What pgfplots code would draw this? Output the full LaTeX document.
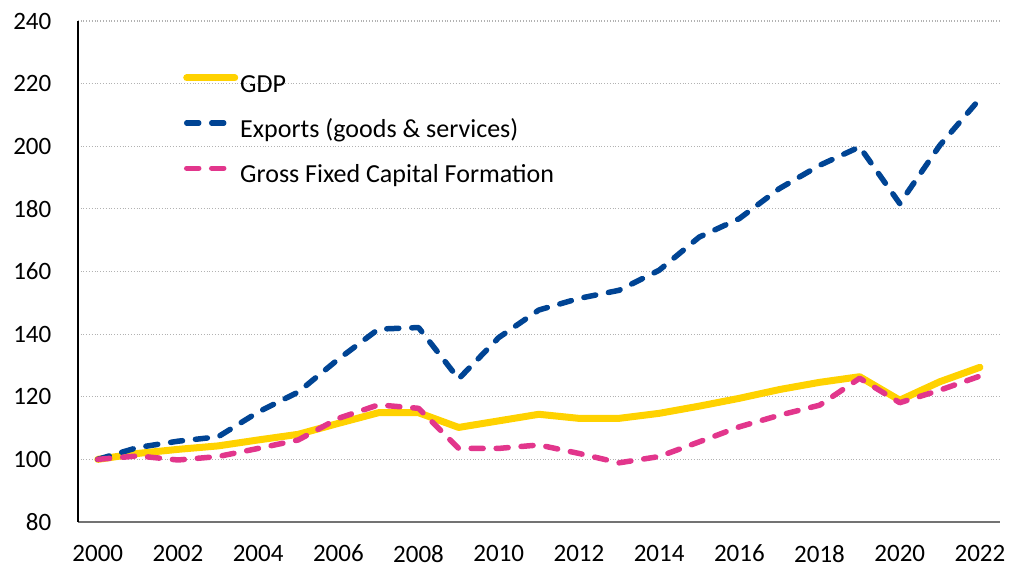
\documentclass[border=0pt]{standalone}
\usepackage{fontspec}
\setmainfont{Carlito}
\usepackage{pgfplots}
\pgfplotsset{compat=1.18}
\definecolor{gdpY}{RGB}{255,210,0}
\definecolor{expB}{RGB}{0,68,148}
\definecolor{gfcfP}{RGB}{226,54,140}
\begin{document}
\begin{tikzpicture}
\path[use as bounding box] (-38.85pt,-22.5pt) rectangle (466.65pt,261pt);
\begin{axis}[
  at={(0pt,0pt)}, anchor=south west,
  width=461.15pt, height=250.5pt, scale only axis,
  xmin=1999.5, xmax=2022.5, ymin=80, ymax=240,
  xtick={2000,2002,...,2022}, ytick={80,100,...,240},
  axis x line*=bottom, axis y line*=left,
  x axis line style={-, draw=black!55, line width=0.8pt},
  y axis line style={-, draw=black, line width=0.8pt},
  major tick length=0pt,
  tick style={draw=none},
  ymajorgrids, grid style={densely dotted, draw=black!30, line width=0.6pt},
  tick label style={font=\fontsize{12.5}{14}\selectfont, inner sep=0pt, /pgf/number format/assume math mode=true},
  xticklabel style={/pgf/number format/1000 sep=, anchor=north},
  yticklabel style={anchor=east},
  xticklabel shift=11.3pt, yticklabel shift=13pt,
  legend style={draw=none, fill=none, at={(rel axis cs:0.1140,0.8945)}, anchor=north west,
    font=\fontsize{13}{15}\selectfont, inner sep=0pt, row sep=10.6pt, column sep=1pt,
    nodes={inner sep=0pt, text height=9pt, text depth=3pt, anchor=west}},
  legend cell align=left,
  legend image code/.code={\draw[#1] (1.5pt,4.2pt) -- (25.5pt,4.2pt);},
]
\addplot[gdpY, line width=3.5pt, line join=round, line cap=round] coordinates {
(2000,100) (2001,101.9) (2002,103.2) (2003,104.3) (2004,106.2) (2005,108.0)
(2006,111.5) (2007,114.9) (2008,114.9) (2009,110.2) (2010,112.3) (2011,114.4)
(2012,113.1) (2013,113.1) (2014,114.7) (2015,117.0) (2016,119.5) (2017,122.3)
(2018,124.6) (2019,126.4) (2020,118.9) (2021,124.8) (2022,129.4)};
\addlegendentry{GDP}
\addplot[expB, line width=2.75pt, line cap=round, line join=round, dash pattern=on 6pt off 6.5pt] coordinates {
(2000,100) (2001,103.8) (2002,105.8) (2003,107.2) (2004,115.1) (2005,121.5)
(2006,132.0) (2007,141.6) (2008,142.1) (2009,125.7) (2010,138.9) (2011,147.7)
(2012,151.4) (2013,154.0) (2014,160.4) (2015,171.0) (2016,176.9) (2017,186.5)
(2018,193.9) (2019,199.8) (2020,181.7) (2021,200.3) (2022,215.2)};
\addlegendentry{Exports (goods \& services)}
\addplot[gfcfP, line width=2.75pt, line cap=round, line join=round, dash pattern=on 6pt off 6.5pt] coordinates {
(2000,100) (2001,101.1) (2002,99.8) (2003,100.9) (2004,103.5) (2005,106.2)
(2006,113.1) (2007,117.4) (2008,116.3) (2009,103.5) (2010,103.5) (2011,104.6)
(2012,101.9) (2013,98.9) (2014,100.9) (2015,105.6) (2016,110.4) (2017,114.1)
(2018,117.3) (2019,125.9) (2020,118.1) (2021,122.1) (2022,126.6)};
\addlegendentry{Gross Fixed Capital Formation}
\end{axis}
\end{tikzpicture}
\end{document}
